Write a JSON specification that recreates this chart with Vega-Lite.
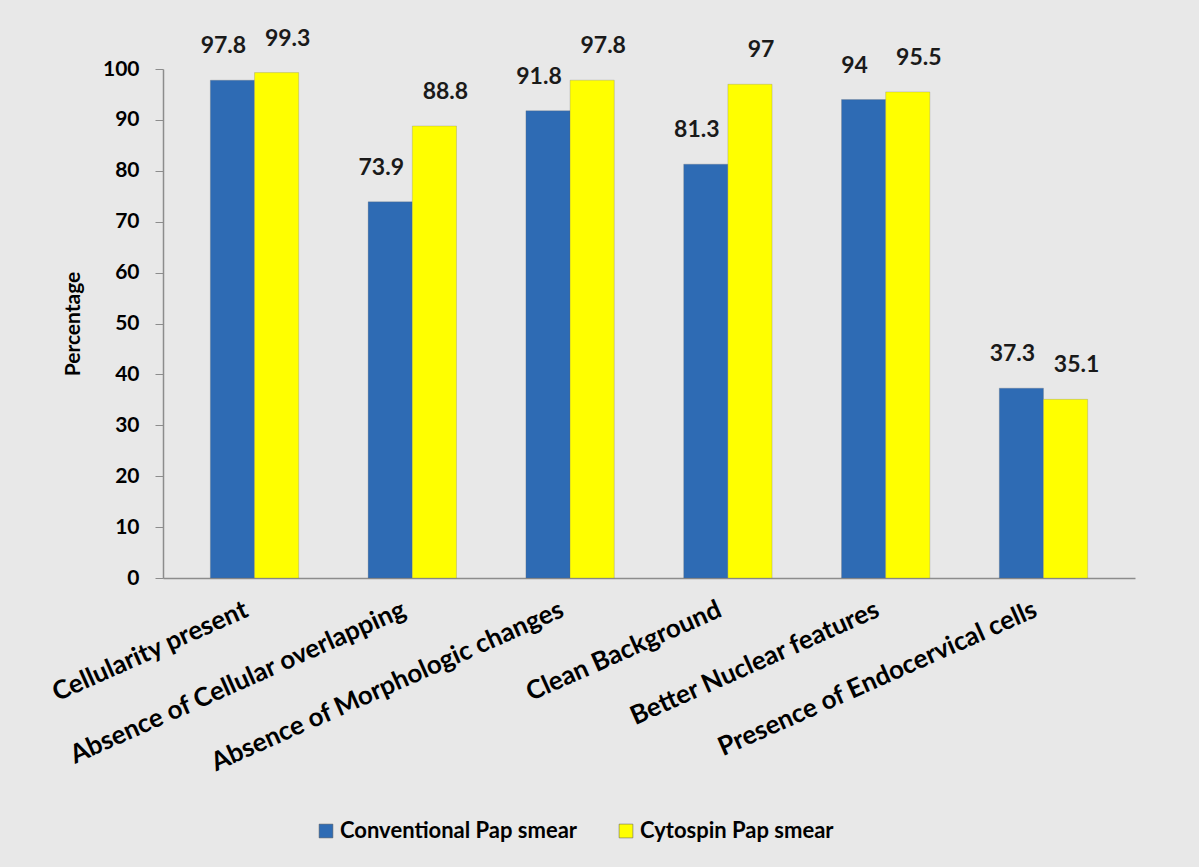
{
  "$schema": "https://vega.github.io/schema/vega-lite/v6.json",
  "autosize": {"type": "none"},
  "width": 972,
  "height": 509,
  "padding": {"left": 163, "top": 69, "right": 64, "bottom": 289},
  "background": "#e8e8e8",
  "config": {
    "font": "Lato",
    "view": {"stroke": null}
  },
  "data": {
    "values": [
      {"category": "Cellularity present", "series": "Conventional Pap smear", "value": 97.8},
      {"category": "Cellularity present", "series": "Cytospin Pap smear", "value": 99.3},
      {"category": "Absence of Cellular overlapping", "series": "Conventional Pap smear", "value": 73.9},
      {"category": "Absence of Cellular overlapping", "series": "Cytospin Pap smear", "value": 88.8},
      {"category": "Absence of Morphologic changes", "series": "Conventional Pap smear", "value": 91.8},
      {"category": "Absence of Morphologic changes", "series": "Cytospin Pap smear", "value": 97.8},
      {"category": "Clean Background", "series": "Conventional Pap smear", "value": 81.3},
      {"category": "Clean Background", "series": "Cytospin Pap smear", "value": 97},
      {"category": "Better Nuclear features", "series": "Conventional Pap smear", "value": 94},
      {"category": "Better Nuclear features", "series": "Cytospin Pap smear", "value": 95.5},
      {"category": "Presence of Endocervical cells", "series": "Conventional Pap smear", "value": 37.3},
      {"category": "Presence of Endocervical cells", "series": "Cytospin Pap smear", "value": 35.1}
    ]
  },
  "encoding": {
    "x": {
      "field": "category",
      "type": "nominal",
      "sort": null,
      "scale": {"paddingInner": 0.44, "paddingOuter": 0.3},
      "axis": {
        "title": null,
        "labelAngle": -24,
        "labelAlign": "right",
        "labelBaseline": "middle",
        "labelFont": "Lato",
        "labelFontWeight": "bold",
        "labelFontSize": 26,
        "labelColor": "#000000",
        "labelPadding": 30,
        "labelOffset": -8,
        "labelLimit": 600,
        "ticks": false,
        "domainColor": "#8c8c8c",
        "domainWidth": 1.5
      }
    },
    "xOffset": {"field": "series", "type": "nominal", "scale": {"paddingInner": 0, "paddingOuter": 0}},
    "y": {
      "field": "value",
      "type": "quantitative",
      "scale": {"domain": [0, 100]},
      "axis": {
        "title": "Percentage",
        "titleFont": "Lato",
        "titleFontSize": 21,
        "titleFontWeight": "bold",
        "titleColor": "#000000",
        "titlePadding": 19,
        "values": [0, 10, 20, 30, 40, 50, 60, 70, 80, 90, 100],
        "labelFont": "Lato",
        "labelFontSize": 21,
        "labelFontWeight": "bold",
        "labelColor": "#000000",
        "labelPadding": 16,
        "grid": false,
        "tickColor": "#8c8c8c",
        "tickSize": 8,
        "domainColor": "#8c8c8c",
        "domainWidth": 1.5
      }
    }
  },
  "layer": [
    {
      "mark": {"type": "bar", "stroke": "#6a6a6a", "strokeWidth": 0.5, "strokeOpacity": 0.5},
      "encoding": {
        "color": {
          "field": "series",
          "type": "nominal",
          "scale": {"domain": ["Conventional Pap smear", "Cytospin Pap smear"], "range": ["#2e6bb4", "#ffff00"]},
          "legend": {
            "title": null,
            "orient": "none",
            "direction": "horizontal",
            "legendX": 152,
            "legendY": 751,
            "symbolType": "square",
            "symbolSize": 190,
            "symbolStrokeColor": "#555555",
            "symbolStrokeWidth": 0.5,
            "labelFont": "Lato",
            "labelFontSize": 22,
            "labelFontWeight": "bold",
            "labelColor": "#000000",
            "labelLimit": 400,
            "columnPadding": 37,
            "symbolOffset": 0,
            "labelOffset": 3
          }
        }
      }
    },
    {
      "transform": [{"filter": "datum.series === 'Conventional Pap smear'"}],
      "mark": {"type": "text", "dy": -22, "dx": -9, "font": "Lato", "fontSize": 23, "fontWeight": "bold", "color": "#1a1a1a", "baseline": "bottom"},
      "encoding": {
        "text": {"field": "value", "type": "quantitative"}
      }
    },
    {
      "transform": [{"filter": "datum.series === 'Cytospin Pap smear'"}],
      "mark": {"type": "text", "dy": -22, "dx": 11, "font": "Lato", "fontSize": 23, "fontWeight": "bold", "color": "#1a1a1a", "baseline": "bottom"},
      "encoding": {
        "text": {"field": "value", "type": "quantitative"}
      }
    }
  ]
}
